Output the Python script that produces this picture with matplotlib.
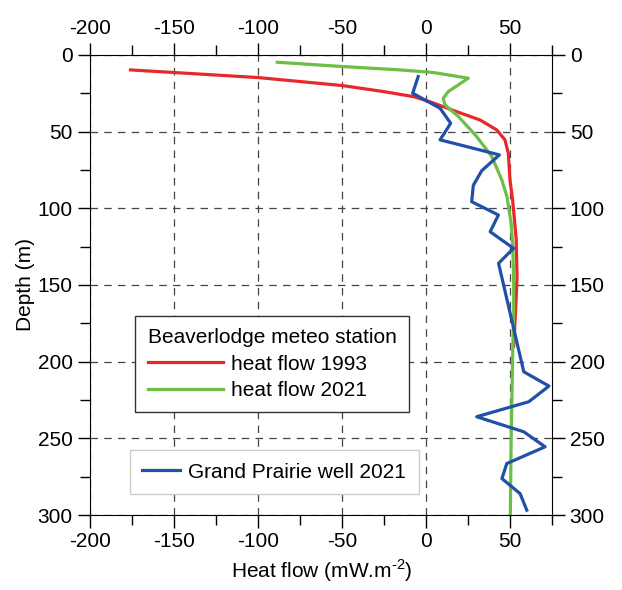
import matplotlib.pyplot as plt
from matplotlib.ticker import MultipleLocator

plt.rcParams['font.family'] = ['Liberation Sans', 'DejaVu Sans']
plt.rcParams['font.size'] = 15
plt.rcParams['axes.unicode_minus'] = False
plt.rcParams['mathtext.fontset'] = 'custom'
plt.rcParams['mathtext.rm'] = 'Liberation Sans'

# heat flow profiles (mW/m2) vs depth (m)
red_depth = [9.8, 14.8, 20, 23.9, 27.2, 30.5, 37, 42.4, 48.9, 55.4, 64.1, 81.5, 95, 120, 145,
             170, 190]
red_flow = [-176, -100, -50, -25.6, -7.7, 2, 18, 31.9, 41.9, 46.8, 48.8, 49.8, 51.4, 53.5, 54,
            53, 52]

green_depth = [4.8, 7.6, 9.8, 11.5, 15.2, 23.9, 28.3, 32.6, 40.2, 53.3, 66.3, 81.5, 92.4, 110,
               125, 150, 170, 190, 220, 250, 280, 300]
green_flow = [-88.7, -50, -15.7, 4.2, 25, 13.1, 10.1, 11.1, 19.1, 30, 39, 44.9, 48, 50.5,
              51.5, 52, 52, 51.5, 51, 50.5, 50.2, 50]

blue_depth = [14.1, 25, 34.8, 44.6, 55.4, 65.2, 75.5, 85, 95.7, 104.4, 115.3, 126.1, 135.9,
              206.6, 215.9, 226.1, 235.9, 245.7, 255.5, 266.4, 276.2, 286, 296.8]
blue_flow = [-4.8, -8.1, 8.2, 14.5, 8.2, 43.5, 33, 28, 27, 42.9, 38, 51.9, 43,
             58, 73, 61, 30, 58, 70.7, 47.9, 45, 55.8, 59.8]

fig = plt.figure(figsize=(6.22, 5.90), dpi=100)
ax = fig.add_axes([0.145, 0.127, 0.743, 0.780])

l1, = ax.plot(red_flow, red_depth, color='#e8282b', lw=2.3, label='heat flow 1993')
l2, = ax.plot(green_flow, green_depth, color='#6cbf44', lw=2.3, label='heat flow 2021')
l3, = ax.plot(blue_flow, blue_depth, color='#2150a8', lw=2.3, label='Grand Prairie well 2021')

ax.set_xlim(-200, 75)
ax.set_ylim(300, 0)
ax.xaxis.set_major_locator(MultipleLocator(50))
ax.xaxis.set_minor_locator(MultipleLocator(25))
ax.yaxis.set_major_locator(MultipleLocator(50))
ax.yaxis.set_minor_locator(MultipleLocator(25))
ax.tick_params(which='both', top=True, right=True, labeltop=True, labelright=True,
               direction='out', width=1)
ax.tick_params(which='major', length=9)
ax.tick_params(which='minor', length=7)
ax.grid(True, which='major', color='#444444', linestyle=(0, (6, 5)), lw=0.9)

ax.set_xlabel('Heat flow (mW.m$^{\\text{-2}}$)')
ax.set_ylabel('Depth (m)', labelpad=2)

leg1 = ax.legend(handles=[l1, l2], title='Beaverlodge meteo station', loc='upper left',
                 bbox_to_anchor=(0.097, 0.433), fancybox=False, framealpha=1,
                 edgecolor='#333333', handlelength=3.6, handletextpad=0.4,
                 title_fontsize=15, borderaxespad=0, borderpad=0.6, labelspacing=0.35)
leg1._legend_box.align = 'left'
ax.add_artist(leg1)
leg2 = ax.legend(handles=[l3], loc='upper left', bbox_to_anchor=(0.086, 0.141),
                 fancybox=False, framealpha=1, edgecolor='#cccccc', handlelength=1.8,
                 handletextpad=0.4, borderaxespad=0, borderpad=0.6)

fig.savefig('out.png', dpi=100)
